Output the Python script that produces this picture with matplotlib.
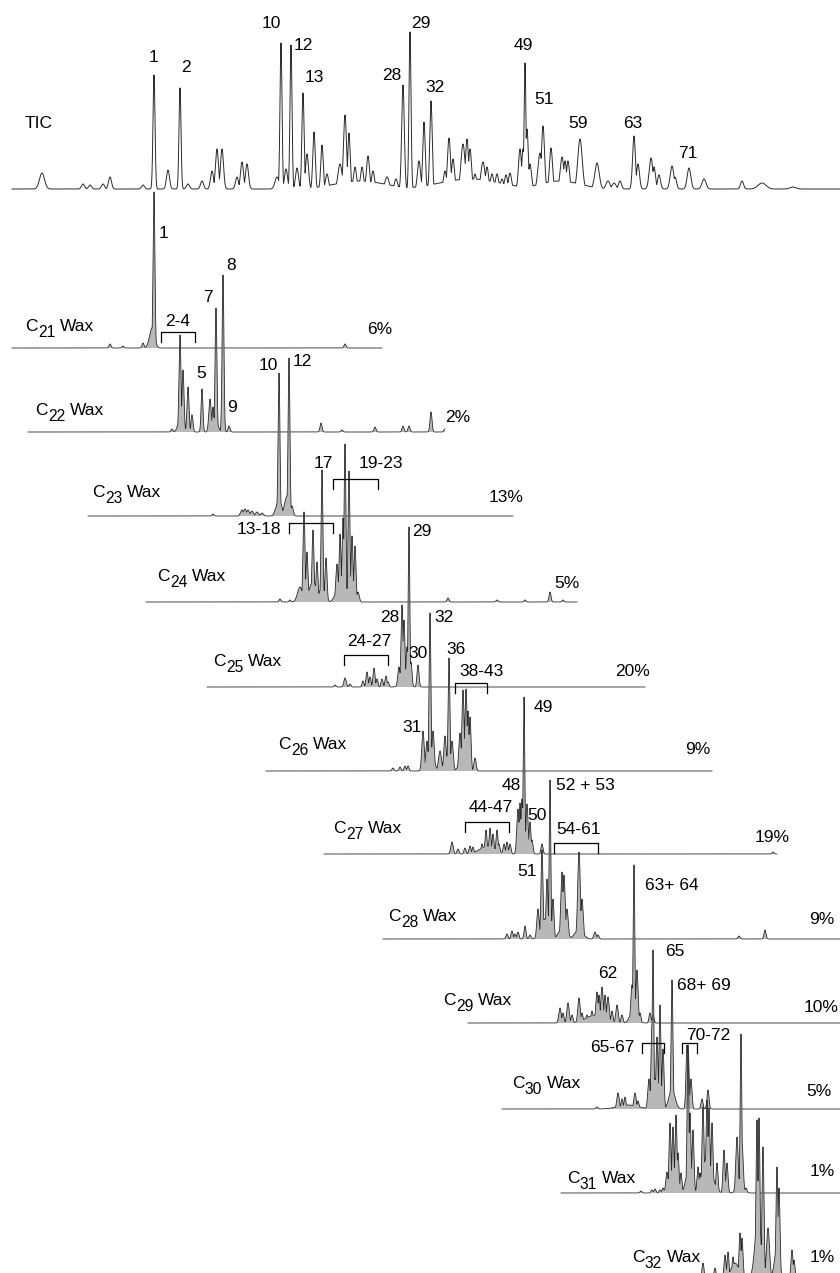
import numpy as np
import matplotlib.pyplot as plt

plt.rcParams['font.family'] = 'Liberation Sans'

# peaks as (retention, height, width); heights scaled so the largest ~158
tic_peaks = [(42, 16, 2.5), (83, 5, 1.5), (90, 4, 1.5), (103, 5, 1.5), (110, 12, 1.5), (143, 4, 1.5),
             (154, 114, 1.0), (168, 19, 1.5), (180, 101, 1.0), (188, 5, 1.5), (202, 8, 1.5),
             (212, 18, 1.5), (217, 40, 1.5), (222, 40, 1.5), (237, 12, 1.5), (242, 27, 1.5), (247, 25, 1.5),
             (277, 12, 2), (281, 146, 1.0), (286, 20, 1.5), (291, 144, 1.0), (297, 21, 1.5), (303, 96, 1.1),
             (307, 35, 1.5), (314, 57, 1.2), (322, 44, 1.2), (327, 15, 1.5), (340, 25, 2), (345, 74, 1.5),
             (349, 56, 1.2), (355, 22, 1.5), (362, 22, 1.5), (368, 33, 1.5), (373, 18, 1.5), (387, 12, 2),
             (396, 10, 1.5), (403, 104, 1.3), (410, 157, 1.0), (419, 28, 1.5), (424, 67, 1.2), (431, 88, 1.2),
             (445, 18, 1.5), (449, 51, 1.5), (453, 30, 1.5), (463, 45, 2), (467, 50, 1.5), (470, 40, 1.5),
             (475, 15, 1.5), (483, 27, 2), (487, 22, 1.5), (492, 15, 1.5), (497, 15, 1.5), (502, 10, 1.5),
             (506, 14, 1.5), (510, 16, 1.5), (520, 40, 1.5), (523, 40, 1.3), (525, 126, 0.9), (527, 60, 1.3),
             (530, 25, 1.5), (540, 36, 2), (543, 63, 1.5), (551, 41, 1.5), (562, 32, 1.8), (565, 28, 1.5),
             (568, 28, 1.5), (580, 50, 2.2), (597, 26, 2.2), (608, 8, 2), (614, 6, 2), (620, 8, 1.5),
             (634, 53, 1.4), (638, 25, 1.5), (651, 31, 1.8), (654, 22, 1.5), (659, 14, 1.5), (672, 23, 1.8),
             (675, 12, 1.5), (689, 21, 1.8), (704, 10, 2), (742, 8, 1.5), (762, 6, 4), (793, 2, 3),
             (360, 8, 25), (470, 10, 30), (560, 8, 20)]

c21_peaks = [(110, 4, 1), (123, 2, 1), (143, 5, 1), (152, 20, 2.5), (154, 156, 0.9), (345, 4, 1)]

c22_peaks = [(172, 3, 1), (180, 97, 1.0), (181, 18, 2.5), (183, 62, 1.0), (188, 45, 1.0), (192, 17, 1.0),
             (202, 43, 0.9), (210, 33, 1.2), (213, 25, 1.0), (215, 15, 2.5), (216, 124, 0.9),
             (223, 157, 0.9), (229, 6, 1), (321, 9, 1), (342, 2, 1), (375, 5, 1), (403, 6, 1),
             (409, 6, 1), (431, 20, 1), (445, 3, 1)]

c23_peaks = [(213, 2, 1), (242, 6, 1.5), (245, 7, 1.5), (248, 6, 1.5), (252, 5, 1.5), (257, 4, 1.5),
             (262, 3, 1.5), (276, 8, 1.5), (279, 18, 2.5), (279, 143, 0.9), (287, 20, 2.5),
             (289, 158, 0.9), (292, 10, 1.2)]

c24_peaks = [(280, 3, 1), (290, 2, 1), (300, 15, 2.5), (304, 90, 1.0), (307, 50, 1.0), (313, 72, 1.0),
             (317, 40, 1.0), (313, 20, 4), (322, 132, 0.9), (326, 44, 1.0), (322, 15, 3), (337, 38, 1.2),
             (340, 68, 1.0), (343, 84, 1.0), (345, 158, 0.9), (341, 25, 4), (349, 131, 0.9), (352, 66, 1.0),
             (355, 56, 1.0), (358, 10, 1.2), (448, 4, 1), (497, 2, 1), (525, 2, 1), (550, 10, 1), (563, 2, 1)]

c25_peaks = [(335, 2, 1), (345, 9, 1.2), (350, 3, 1), (363, 6, 1), (367, 15, 1), (370, 10, 1),
             (374, 19, 1), (377, 8, 1), (382, 8, 1), (386, 11, 1), (388, 5, 1), (399, 20, 1.2),
             (402, 82, 1.0), (404, 67, 1.0), (403, 15, 3), (407, 40, 1.0), (409, 160, 0.8), (411, 25, 1),
             (418, 22, 1.0)]

c26_peaks = [(393, 3, 1), (400, 4, 1), (405, 5, 1), (408, 5, 1), (423, 40, 1.2), (427, 30, 1.2),
             (430, 158, 0.9), (430, 20, 3.5), (433, 40, 1.2), (440, 20, 1.5), (445, 35, 1.2),
             (449, 113, 0.9), (447, 15, 3), (452, 30, 1.2), (460, 38, 1.2), (463, 81, 1.1), (466, 82, 1.1),
             (464, 15, 4), (468, 60, 1.0), (470, 54, 1.0), (475, 13, 1.1)]

c27_peaks = [(452, 12, 1.2), (458, 5, 1), (465, 6, 1), (470, 8, 1), (473, 7, 1), (482, 10, 1),
             (486, 24, 1), (490, 26, 1), (493, 20, 1), (497, 24, 1), (499, 10, 1), (504, 10, 1),
             (507, 12, 1), (510, 10, 1), (488, 8, 8), (518, 45, 1.2), (520, 51, 1.0), (522, 55, 1.1),
             (524, 157, 0.8), (527, 50, 1.1), (530, 32, 1), (532, 14, 1), (542, 10, 1), (773, 2, 1)]

c28_peaks = [(507, 5, 1), (512, 8, 1), (515, 5, 1), (518, 7, 1), (525, 13, 1), (530, 4, 1),
             (538, 30, 1.2), (542, 89, 1.0), (547, 60, 1.0), (550, 159, 0.8), (545, 20, 4), (553, 40, 1.0),
             (562, 67, 1.2), (564, 64, 1.2), (567, 30, 1.2), (563, 12, 4), (579, 87, 1.3), (582, 40, 1.2),
             (579, 10, 4), (595, 7, 1.2), (598, 4, 1), (739, 3, 1), (765, 9, 1)]

c29_peaks = [(560, 15, 1.2), (563, 10, 1), (568, 20, 1.2), (572, 8, 1), (579, 25, 1.2), (582, 10, 1),
             (587, 8, 1), (592, 12, 1), (597, 31, 1.2), (599, 28, 1), (602, 36, 1.2), (605, 28, 1),
             (608, 26, 1.2), (612, 12, 1), (617, 18, 1.2), (622, 8, 1), (596, 8, 10), (632, 38, 1.2),
             (634, 158, 0.8), (637, 53, 1.1), (634, 15, 3.5), (640, 10, 1), (650, 10, 1), (653, 8, 1)]

c30_peaks = [(597, 2, 1), (618, 16, 1.2), (622, 10, 1), (625, 12, 1), (635, 16, 1.2), (638, 8, 1),
             (628, 4, 10), (649, 30, 1.2), (652, 85, 1.0), (653, 159, 0.8), (655, 30, 3.5), (657, 72, 1.0),
             (660, 104, 0.9), (663, 60, 1.0), (672, 129, 0.9), (672, 20, 3), (687, 64, 1.0), (688, 64, 1.0),
             (691, 30, 1), (702, 10, 1), (708, 19, 1)]

c31_peaks = [(641, 2, 1), (652, 3, 1), (655, 4, 1), (660, 3, 1), (663, 5, 1), (667, 21, 1.2),
             (670, 70, 1.0), (673, 66, 1.0), (676, 78, 1.0), (678, 40, 1.0), (671, 20, 3.5), (681, 20, 1),
             (685, 5, 1), (688, 140, 0.9), (690, 80, 1.0), (693, 63, 1.0), (689, 25, 3), (698, 26, 1),
             (700, 20, 1), (703, 86, 1.0), (707, 93, 1.0), (709, 85, 1.0), (712, 70, 1.0), (707, 35, 5),
             (717, 30, 1), (724, 43, 1), (727, 30, 1), (737, 56, 1.2), (741, 159, 0.8), (742, 50, 1.2),
             (740, 15, 3), (746, 5, 1)]

c32_peaks = [(703, 15, 1), (715, 10, 1), (725, 23, 1), (728, 26, 1), (733, 21, 1), (740, 45, 1),
             (742, 40, 1), (735, 15, 4), (757, 158, 1.0), (759, 160, 1.0), (758, 60, 3), (763, 131, 1.0),
             (768, 50, 1.5), (777, 111, 1.0), (779, 90, 1), (777, 30, 2.5), (792, 28, 1), (794, 18, 1)]

wax_peaks = [c21_peaks, c22_peaks, c23_peaks, c24_peaks, c25_peaks, c26_peaks,
             c27_peaks, c28_peaks, c29_peaks, c30_peaks, c31_peaks, c32_peaks]
wax_carbons = ['21', '22', '23', '24', '25', '26', '27', '28', '29', '30', '31', '32']
wax_share = ['6%', '2%', '13%', '5%', '20%', '9%', '19%', '9%', '10%', '5%', '1%', '1%']

tic_labels = ['1', '2', '10', '12', '13', '28', '29', '32', '49', '51', '59', '63', '71']
peak_labels = ['1', '8', '7', '5', '9', '10', '12', '17', '29', '28', '32', '30', '36', '31',
               '49', '48', '52 + 53', '50', '51', '63+ 64', '65', '62', '68+ 69']
group_labels = ['2-4', '19-23', '13-18', '24-27', '38-43', '44-47', '54-61', '65-67', '70-72']

# layout (figure pixels, y downwards)
tic_base = 189
wax_base = [348, 432, 516, 602, 687, 771, 854, 939, 1023, 1109, 1193, 1278]
wax_start = [12, 28, 88, 146, 207, 266, 324, 383, 468, 502, 561, 620]
wax_end = [382, 445, 513, 577, 645, 712, 777, 840, 840, 840, 840, 840]
wax_name_xy = [(25, 331), (35, 415), (92, 497), (157, 581), (213, 666), (278, 749),
               (333, 833), (388, 921), (443, 1005), (512, 1088), (567, 1183), (632, 1262)]
share_xy = [(380, 330), (458, 417), (506, 497), (567, 583), (633, 672), (698, 750),
            (772, 837), (822, 920), (821, 1008), (819, 1091), (822, 1172), (822, 1257)]
tic_label_xy = [(154, 57), (186, 67), (271, 24), (303, 45), (314, 78), (392, 76), (421, 23),
                (435, 87), (523, 45), (544, 100), (578, 123), (633, 123), (688, 153)]
peak_label_xy = [(163, 233), (231, 266), (208, 298), (201, 374), (232, 408), (268, 366), (302, 362),
                 (323, 463), (422, 531), (390, 618), (444, 617), (418, 653), (456, 650), (412, 727),
                 (543, 708), (511, 785), (585, 785), (537, 816), (527, 872), (672, 885), (675, 952),
                 (608, 973), (704, 985)]
# bracket: x0, x1, y, text centre x, text centre y
brackets = [(161, 195, 332, 178, 321), (333, 378, 479, 381, 464), (289, 333, 523, 259, 529),
            (344, 388, 655, 369, 641), (455, 487, 683, 481, 672), (465, 509, 822, 491, 807),
            (554, 598, 843, 579, 829), (642, 664, 1043, 612, 1048), (682, 697, 1043, 708, 1035)]

rt = np.linspace(0, 840, 6721)


def signal(peaks):
    y = np.zeros_like(rt)
    for pos, h, w in peaks:
        y = np.maximum(y, h * np.exp(-0.5 * ((rt - pos) / w) ** 2))
    return y


fig = plt.figure(figsize=(8.4, 12.73), dpi=100)
ax = fig.add_axes([0, 0, 1, 1])
ax.set_xlim(0, 840)
ax.set_ylim(1273, 0)
ax.axis('off')

fs = 12.5
line_col = '#2a2a2a'
fill_col = '#b8b8b8'

# total ion current
m = rt >= 12
ax.plot(rt[m], tic_base - signal(tic_peaks)[m], color=line_col, lw=0.7, zorder=2)
ax.text(39, 124, 'TIC', fontsize=fs, ha='center', va='center')
for lab, (x, y) in zip(tic_labels, tic_label_xy):
    ax.text(x, y, lab, fontsize=fs, ha='center', va='center')

# single-wax traces, stacked downwards
for i, peaks in enumerate(wax_peaks):
    base = wax_base[i]
    m = (rt >= wax_start[i]) & (rt <= wax_end[i])
    s = signal(peaks)[m]
    z = 3 + i
    ax.fill_between(rt[m], base, base - s, where=s > 0.3, color=fill_col, lw=0, zorder=z)
    ax.plot(rt[m], base - s, color=line_col, lw=0.6, zorder=z + 0.5)

    # "C" with a near full-size lowered subscript, then "Wax"
    nx, ny = wax_name_xy[i]
    tc = ax.text(nx, ny, 'C', fontsize=fs, ha='left', va='baseline', zorder=20)
    ts = ax.annotate(wax_carbons[i], xy=(1, 0), xycoords=tc, xytext=(0.3, -4.5),
                     textcoords='offset points', fontsize=fs * 0.9,
                     ha='left', va='bottom', zorder=20)
    ax.annotate('Wax', xy=(1, 0), xycoords=(ts, tc), xytext=(3.5, 0),
                textcoords='offset points', fontsize=fs, ha='left', va='bottom', zorder=20)

    px, py = share_xy[i]
    ax.text(px, py, wax_share[i], fontsize=fs, ha='center', va='center', zorder=20)

for lab, (x, y) in zip(peak_labels, peak_label_xy):
    ax.text(x, y, lab, fontsize=fs, ha='center', va='center', zorder=20)

for lab, (x0, x1, y, tx, ty) in zip(group_labels, brackets):
    ax.plot([x0, x0, x1, x1], [y + 10, y, y, y + 10], color='black', lw=0.9, zorder=20)
    ax.text(tx, ty, lab, fontsize=fs, ha='center', va='center', zorder=20)

fig.savefig('out.png', dpi=100)
